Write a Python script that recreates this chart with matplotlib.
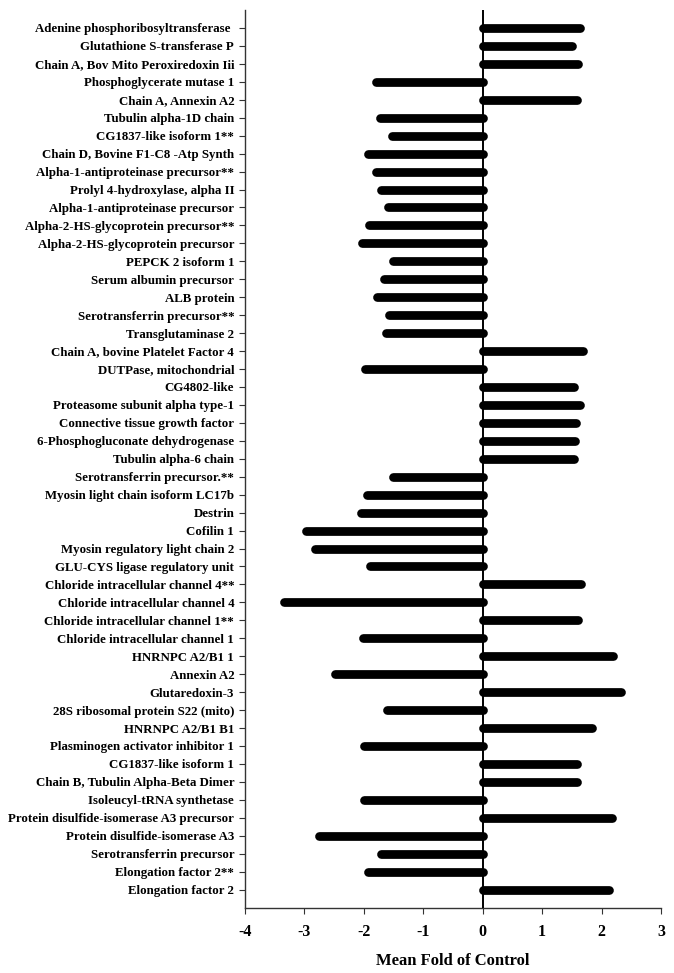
import matplotlib
matplotlib.use("Agg")
import matplotlib.pyplot as plt

proteins = [
    "Adenine phosphoribosyltransferase ",
    "Glutathione S-transferase P",
    "Chain A, Bov Mito Peroxiredoxin Iii",
    "Phosphoglycerate mutase 1",
    "Chain A, Annexin A2",
    "Tubulin alpha-1D chain",
    "CG1837-like isoform 1**",
    "Chain D, Bovine F1-C8 -Atp Synth",
    "Alpha-1-antiproteinase precursor**",
    "Prolyl 4-hydroxylase, alpha II",
    "Alpha-1-antiproteinase precursor",
    "Alpha-2-HS-glycoprotein precursor**",
    "Alpha-2-HS-glycoprotein precursor",
    "PEPCK 2 isoform 1",
    "Serum albumin precursor",
    "ALB protein",
    "Serotransferrin precursor**",
    "Transglutaminase 2",
    "Chain A, bovine Platelet Factor 4",
    "DUTPase, mitochondrial",
    "CG4802-like",
    "Proteasome subunit alpha type-1",
    "Connective tissue growth factor",
    "6-Phosphogluconate dehydrogenase",
    "Tubulin alpha-6 chain",
    "Serotransferrin precursor.**",
    "Myosin light chain isoform LC17b",
    "Destrin",
    "Cofilin 1",
    "Myosin regulatory light chain 2",
    "GLU-CYS ligase regulatory unit",
    "Chloride intracellular channel 4**",
    "Chloride intracellular channel 4",
    "Chloride intracellular channel 1**",
    "Chloride intracellular channel 1",
    "HNRNPC A2/B1 1",
    "Annexin A2",
    "Glutaredoxin-3",
    "28S ribosomal protein S22 (mito)",
    "HNRNPC A2/B1 B1",
    "Plasminogen activator inhibitor 1",
    "CG1837-like isoform 1",
    "Chain B, Tubulin Alpha-Beta Dimer",
    "Isoleucyl-tRNA synthetase",
    "Protein disulfide-isomerase A3 precursor",
    "Protein disulfide-isomerase A3",
    "Serotransferrin precursor",
    "Elongation factor 2**",
    "Elongation factor 2",
]

fold_change = [
    1.63, 1.50, 1.61, -1.79, 1.59, -1.73, -1.53, -1.92, -1.79, -1.71,
    -1.59, -1.91, -2.02, -1.50, -1.66, -1.77, -1.58, -1.63, 1.68, -1.97,
    1.54, 1.64, 1.57, 1.55, 1.53, -1.50, -1.94, -2.05, -2.97, -2.81,
    -1.90, 1.66, -3.34, 1.61, -2.01, 2.19, -2.48, 2.33, -1.61, 1.84,
    -1.99, 1.58, 1.58, -1.99, 2.18, -2.75, -1.71, -1.92, 2.13,
]

x_ticks = [-4, -3, -2, -1, 0, 1, 2, 3]

plt.rcParams['font.family'] = ['Liberation Serif', 'DejaVu Serif']
plt.rcParams['font.weight'] = 'bold'

fig = plt.figure(figsize=(6.74, 9.73), dpi=100)
ax = fig.add_axes([0.363, 0.0673, 0.618, 0.9224])

for i, v in enumerate(fold_change):
    ax.plot([0, v], [i, i], color='black', lw=6.3, solid_capstyle='round', zorder=3)

ax.axvline(0, color='black', lw=1.4, zorder=4)

ax.set_xlim(-4, 3)
ax.set_ylim(len(proteins), -1)
ax.set_yticks(range(len(proteins)))
ax.set_yticklabels(proteins, fontsize=9.3, fontweight='bold')
ax.set_xticks(x_ticks)
ax.set_xticklabels([str(t) for t in x_ticks], fontsize=11.5, fontweight='bold')
ax.tick_params(axis='y', direction='out', length=4, width=0.8, pad=3.5, color='#333333')
ax.tick_params(axis='x', direction='out', length=4, width=0.8, pad=8, color='#333333')
ax.spines['top'].set_visible(False)
ax.spines['right'].set_visible(False)
for s in ('left', 'bottom'):
    ax.spines[s].set_linewidth(1.0)
    ax.spines[s].set_color('#333333')
ax.set_xlabel("Mean Fold of Control", fontsize=12, fontweight='bold', labelpad=9)

fig.savefig("out.png", dpi=100)
